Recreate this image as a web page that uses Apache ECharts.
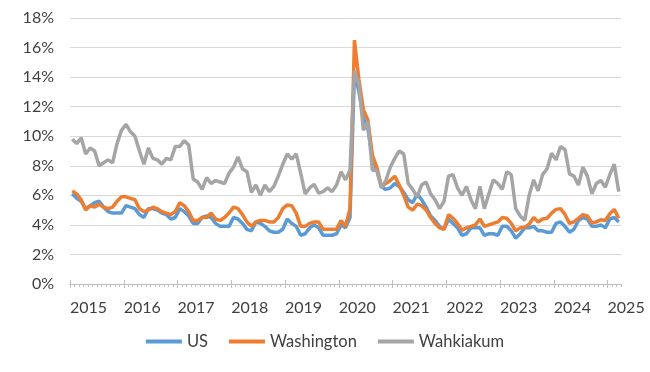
<!DOCTYPE html>
<html>
<head>
<meta charset="utf-8">
<script src="https://cdn.jsdelivr.net/npm/echarts@6/dist/echarts.min.js"></script>
<style>
html,body{margin:0;padding:0;background:#fff;}
#chart{width:650px;height:372px;}
</style>
</head>
<body>
<div id="chart"></div>
<script>
// Year tick labels
var tickYears = ['2015','2016','2017','2018','2019','2020','2021','2022','2023','2024','2025'];
// Series names
var seriesNames = ['US', 'Washington', 'Wahkiakum'];
// Monthly unemployment rate (%), Jan 2015 - Mar 2025
var usRate = [
  6.1,5.8,5.6,5.1,5.3,5.5,5.6,5.2,4.9,4.8,4.8,4.8,
  5.3,5.2,5.1,4.7,4.5,5.1,5.1,5.0,4.8,4.7,4.4,4.5,
  5.1,4.9,4.6,4.1,4.1,4.5,4.6,4.5,4.1,3.9,3.9,3.9,
  4.5,4.4,4.1,3.7,3.6,4.2,4.1,3.9,3.6,3.5,3.5,3.7,
  4.4,4.1,3.9,3.3,3.4,3.8,4.0,3.8,3.3,3.3,3.3,3.4,
  4.0,3.8,4.5,14.4,13.0,11.2,10.5,8.5,7.7,6.6,6.4,6.5,
  6.8,6.6,6.2,5.7,5.5,6.1,5.7,5.2,4.6,4.3,3.9,3.7,
  4.4,4.1,3.8,3.3,3.4,3.8,3.8,3.8,3.3,3.4,3.4,3.3,
  3.9,3.9,3.6,3.1,3.4,3.8,3.8,3.9,3.6,3.6,3.5,3.5,
  4.1,4.2,3.9,3.5,3.7,4.3,4.5,4.4,3.9,3.9,4.0,3.8,
  4.4,4.5,4.2
];
var washingtonRate = [
  6.3,6.1,5.7,5.0,5.3,5.2,5.4,5.2,5.1,5.2,5.6,5.9,
  5.9,5.8,5.7,5.1,4.9,5.0,5.2,5.1,4.9,4.8,4.7,4.9,
  5.5,5.3,4.9,4.3,4.3,4.5,4.5,4.8,4.4,4.3,4.5,4.8,
  5.2,5.1,4.7,4.2,3.9,4.2,4.3,4.3,4.2,4.2,4.5,5.1,
  5.35,5.3,4.8,3.9,3.9,4.1,4.2,4.2,3.7,3.7,3.7,3.7,
  4.3,3.9,5.1,16.5,13.8,11.8,11.1,8.7,7.9,6.6,6.8,7.0,
  7.3,6.7,6.0,5.2,5.0,5.4,5.3,5.0,4.5,4.1,3.8,3.7,
  4.7,4.45,4.1,3.65,3.8,3.9,4.0,4.4,3.9,4.0,4.1,4.2,
  4.5,4.45,4.1,3.6,3.8,3.85,4.05,4.5,4.2,4.4,4.45,4.8,
  5.05,5.1,4.7,4.1,4.2,4.45,4.7,4.6,4.15,4.2,4.35,4.3,
  4.75,5.05,4.45
];
var wahkiakumRate = [
  9.8,9.5,9.9,8.8,9.2,9.0,8.0,8.2,8.4,8.2,9.5,10.4,
  10.8,10.3,10.0,9.0,8.1,9.2,8.5,8.4,8.1,8.5,8.4,9.3,
  9.3,9.7,9.4,7.1,6.9,6.4,7.2,6.8,7.0,6.9,6.8,7.5,
  7.9,8.6,7.8,7.6,6.2,6.7,6.0,6.7,6.25,6.6,7.3,8.1,
  8.8,8.45,8.8,7.5,6.1,6.5,6.75,6.15,6.25,6.5,6.25,6.7,
  7.6,7.05,7.7,14.4,13.5,10.4,11.0,7.7,7.7,6.5,7.0,7.9,
  8.5,9.0,8.8,6.8,6.4,5.9,6.7,6.9,6.1,5.7,5.1,5.6,
  7.3,7.4,6.5,6.0,6.6,5.7,5.1,6.6,5.1,6.1,7.05,6.8,
  6.4,7.6,7.4,5.1,4.6,4.3,6.0,7.05,6.3,7.4,7.8,8.85,
  8.4,9.3,9.1,7.45,7.3,6.7,7.9,7.3,6.1,6.8,7.0,6.55,
  7.4,8.1,6.25
];
var colors = ['#5B9BD5', '#ED7D31', '#A5A5A5'];

// month categories (one per data point) and month boundaries (one more)
var months = [];
tickYears.forEach(function (y) {
  for (var m = 1; m <= 12; m++) months.push(y + '-' + (m < 10 ? '0' + m : m));
});
var nPts = usRate.length;
var monthCats = months.slice(0, nPts);
var boundaryCats = months.slice(0, nPts + 1);

var FONT = 'Lato';
var TXT = '#404040';
var AX = '#BFBFBF';

var chart = echarts.init(document.getElementById('chart'), null, {renderer: 'canvas'});
chart.setOption({
  animation: false,
  color: colors,
  grid: {left: 70, right: 29, top: 18, bottom: 88},
  legend: {
    bottom: 17,
    left: 'center',
    itemWidth: 36,
    itemHeight: 4,
    itemGap: 21,
    icon: 'rect',
    textStyle: {fontFamily: FONT, fontSize: 16.5, color: TXT},
    data: seriesNames
  },
  xAxis: [
    {
      type: 'category', position: 'bottom', data: monthCats, boundaryGap: true,
      axisLine: {show: true, lineStyle: {color: AX, width: 1}},
      axisTick: {show: true, interval: 0, length: 3, lineStyle: {color: AX}},
      axisLabel: {show: false},
      splitLine: {show: false}
    },
    {
      type: 'category', position: 'bottom', data: boundaryCats, boundaryGap: false, offset: -4,
      axisLine: {show: false},
      axisTick: {show: true, length: 8, lineStyle: {color: AX},
        interval: function (i) { return i % 12 === 0; }},
      axisLabel: {show: false},
      splitLine: {show: false}
    },
    {
      type: 'category', position: 'bottom', data: boundaryCats, boundaryGap: false,
      axisLine: {show: false},
      axisTick: {show: false},
      axisLabel: {
        show: true, align: 'left', margin: 16,
        interval: function (i) { return i % 12 === 0; },
        formatter: function (v) { return v.slice(0, 4); },
        fontFamily: FONT, fontSize: 16, color: TXT
      },
      splitLine: {show: false}
    }
  ],
  yAxis: {
    type: 'value', min: 0, max: 18, interval: 2,
    axisLine: {show: false},
    axisTick: {show: false},
    axisLabel: {formatter: '{value}%', fontFamily: FONT, fontSize: 16, color: TXT, margin: 16},
    splitLine: {show: true, lineStyle: {color: '#D9D9D9', width: 1}}
  },
  series: [
    {name: seriesNames[0], type: 'line', data: usRate, symbol: 'none', xAxisIndex: 0,
      lineStyle: {width: 3.5, color: colors[0]}, z: 2},
    {name: seriesNames[1], type: 'line', data: washingtonRate, symbol: 'none', xAxisIndex: 0,
      lineStyle: {width: 3.5, color: colors[1]}, z: 3},
    {name: seriesNames[2], type: 'line', data: wahkiakumRate, symbol: 'none', xAxisIndex: 0,
      lineStyle: {width: 3.5, color: colors[2]}, z: 4}
  ]
});
</script>
</body>
</html>
